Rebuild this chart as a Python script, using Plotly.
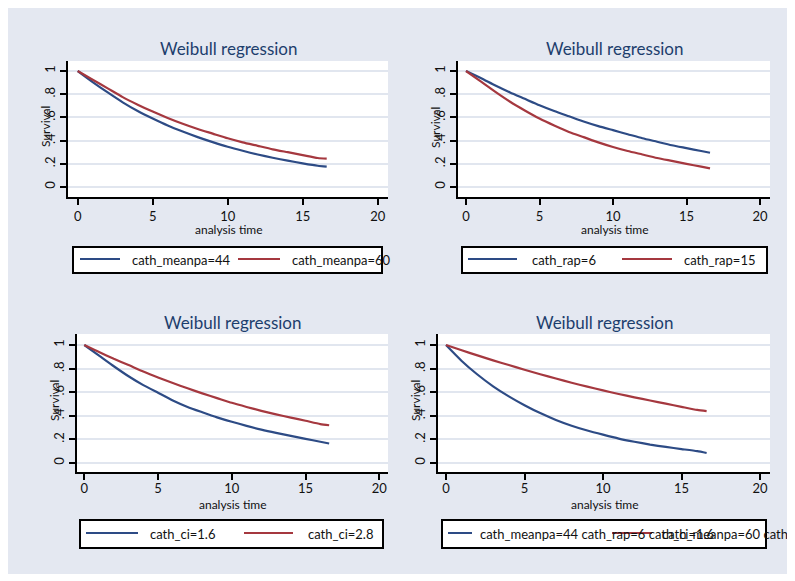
import plotly.graph_objects as go

# ---------------- data ----------------
time = [0, 1, 2, 3, 4, 5, 6, 7, 8, 9, 10, 11, 12, 13, 14, 15, 16, 16.6]

p1_blue = [1.0, 0.905, 0.815, 0.73, 0.655, 0.59, 0.53, 0.478, 0.43, 0.387, 0.347, 0.312, 0.28, 0.252, 0.227, 0.204, 0.183, 0.175]
p1_red = [1.0, 0.925, 0.85, 0.775, 0.71, 0.65, 0.595, 0.545, 0.50, 0.46, 0.42, 0.385, 0.355, 0.325, 0.30, 0.275, 0.25, 0.245]

p2_blue = [1.0, 0.94, 0.875, 0.815, 0.76, 0.705, 0.655, 0.61, 0.565, 0.525, 0.49, 0.455, 0.42, 0.39, 0.36, 0.335, 0.31, 0.295]
p2_red = [1.0, 0.91, 0.82, 0.735, 0.66, 0.59, 0.53, 0.475, 0.43, 0.385, 0.345, 0.31, 0.28, 0.25, 0.225, 0.20, 0.175, 0.16]

p3_blue = [1.0, 0.91, 0.82, 0.735, 0.66, 0.595, 0.53, 0.475, 0.43, 0.387, 0.35, 0.315, 0.283, 0.255, 0.23, 0.205, 0.18, 0.165]
p3_red = [1.0, 0.94, 0.883, 0.83, 0.775, 0.725, 0.678, 0.633, 0.59, 0.55, 0.51, 0.475, 0.442, 0.412, 0.385, 0.358, 0.33, 0.32]

p4_blue = [1.0, 0.865, 0.75, 0.65, 0.565, 0.49, 0.423, 0.365, 0.316, 0.275, 0.24, 0.207, 0.18, 0.156, 0.136, 0.118, 0.10, 0.085]
p4_red = [1.0, 0.955, 0.912, 0.87, 0.83, 0.79, 0.752, 0.716, 0.68, 0.647, 0.615, 0.585, 0.556, 0.53, 0.503, 0.476, 0.45, 0.44]

blue_names = ["cath_meanpa=44", "cath_rap=6", "cath_ci=1.6", "cath_meanpa=44 cath_rap=6 cath_ci=1.6"]
red_names = ["cath_meanpa=60", "cath_rap=15", "cath_ci=2.8", "cath_meanpa=60 cath_rap=15 cath_ci=2.8"]

title_text = "Weibull regression"
x_title = "analysis time"
y_title = "Survival"
x_ticks = [0, 5, 10, 15, 20]
x_ticktext = ["0", "5", "10", "15", "20"]
y_ticks = [0, 0.2, 0.4, 0.6, 0.8, 1.0]
y_ticktext = ["0", ".2", ".4", ".6", ".8", "1"]

series = [(p1_blue, p1_red), (p2_blue, p2_red), (p3_blue, p3_red), (p4_blue, p4_red)]

# ---------------- layout geometry (screen pixels) ----------------
OFF = 8            # page body margin offset
W, H = 795 - OFF, 581 - OFF
BLUE = "#2d4b85"
RED = "#a5383f"
BG = "#e4e8f1"
GRID = "#e1e6ef"
TITLE_C = "#1d3e6d"
FONT = "Lato"

panels = [
    dict(l=68, r=388, t=61, b=197, x0=77.7, x20=377.7, y0=187, y1=71, so=0),
    dict(l=458, r=770, t=61, b=197, x0=466, x20=760, y0=187, y1=71, so=0),
    dict(l=77, r=388, t=334, b=472, x0=84.3, x20=379.3, y0=463, y1=345, so=-3),
    dict(l=438, r=770, t=334, b=472, x0=446, x20=760, y0=463, y1=345, so=-3),
]

legends = [
    dict(box=(73, 382, 247, 273), bl=(80, 120), bt=130, rl=(238, 280), rt=290),
    dict(box=(462, 767, 247, 273), bl=(468, 517), bt=530, rl=(622, 672), rt=682),
    dict(box=(80, 383, 520, 548), bl=(86, 138), bt=148, rl=(244, 293), rt=306),
    dict(box=(442, 766, 520, 548), bl=(448, 472), bt=478, rl=(612, 652), rt=660),
]

def px(x):
    return (x - OFF) / W

def py(y):
    return 1 - (y - OFF) / H

fig = go.Figure()
shapes = []
annotations = []

shapes.append(dict(type="rect", xref="paper", yref="paper", x0=0, x1=1,
                   y0=0, y1=py(574), fillcolor="white", line=dict(width=0), layer="below"))

for i, (p, (sb, sr), lg) in enumerate(zip(panels, series, legends), start=1):
    xa = "x" if i == 1 else f"x{i}"
    ya = "y" if i == 1 else f"y{i}"
    fig.add_trace(go.Scatter(x=time, y=sb, mode="lines", name=blue_names[i - 1],
                             line=dict(color=BLUE, width=2.2, shape="spline", smoothing=0.6),
                             xaxis=xa, yaxis=ya, showlegend=False))
    fig.add_trace(go.Scatter(x=time, y=sr, mode="lines", name=red_names[i - 1],
                             line=dict(color=RED, width=2.2, shape="spline", smoothing=0.6),
                             xaxis=xa, yaxis=ya, showlegend=False))

    sx = (p["x20"] - p["x0"]) / 20.0
    xr = [(p["l"] - p["x0"]) / sx, (p["r"] - p["x0"]) / sx]
    sy = (p["y0"] - p["y1"])
    yr = [(p["y0"] - p["b"]) / sy, (p["y0"] - p["t"]) / sy]

    xkey = "xaxis" if i == 1 else f"xaxis{i}"
    ykey = "yaxis" if i == 1 else f"yaxis{i}"
    fig.update_layout(**{
        xkey: dict(domain=[px(p["l"]), px(p["r"])], range=xr, anchor=ya,
                   tickvals=x_ticks, ticktext=x_ticktext, showgrid=False, zeroline=False,
                   showline=True, linecolor="black", linewidth=2, ticks="outside",
                   ticklen=6, tickwidth=1.5, tickcolor="black", ticklabelstandoff=p["so"],
                   tickfont=dict(family=FONT, size=13, color="#111"), fixedrange=True),
        ykey: dict(domain=[py(p["b"]), py(p["t"])], range=yr, anchor=xa,
                   tickvals=y_ticks, ticktext=y_ticktext, tickangle=-90,
                   showgrid=True, gridcolor=GRID, gridwidth=1.5, zeroline=False,
                   showline=True, linecolor="black", linewidth=2, ticks="outside",
                   ticklen=6, tickwidth=1.5, tickcolor="black",
                   tickfont=dict(family=FONT, size=13, color="#111"), fixedrange=True),
    })

    cx = (p["l"] + p["r"]) / 2
    annotations.append(dict(text=title_text, x=px(cx), y=py(p["t"] - 12), xref="paper", yref="paper",
                            xanchor="center", yanchor="middle", showarrow=False,
                            font=dict(family=FONT, size=17, color=TITLE_C)))
    annotations.append(dict(text=x_title, x=px(cx), y=py(p["b"] + 32), xref="paper", yref="paper",
                            xanchor="center", yanchor="middle", showarrow=False,
                            font=dict(family=FONT, size=12, color="#111")))
    annotations.append(dict(text=y_title, x=px(p["l"] - 23), y=py((p["t"] + p["b"]) / 2 - 2),
                            xref="paper", yref="paper", xanchor="center", yanchor="middle",
                            textangle=-90, showarrow=False,
                            font=dict(family=FONT, size=12, color="#111")))

    bx0, bx1, by0, by1 = lg["box"]
    shapes.append(dict(type="rect", xref="paper", yref="paper", x0=px(bx0), x1=px(bx1),
                       y0=py(by1), y1=py(by0), fillcolor="white", line=dict(color="black", width=2)))
    ly = (by0 + by1) / 2 - 1
    shapes.append(dict(type="line", xref="paper", yref="paper", x0=px(lg["bl"][0]), x1=px(lg["bl"][1]),
                       y0=py(ly), y1=py(ly), line=dict(color=BLUE, width=2)))
    shapes.append(dict(type="line", xref="paper", yref="paper", x0=px(lg["rl"][0]), x1=px(lg["rl"][1]),
                       y0=py(ly), y1=py(ly), line=dict(color=RED, width=2)))
    annotations.append(dict(text=blue_names[i - 1], x=px(lg["bt"]), y=py(ly + 1), xref="paper", yref="paper",
                            xanchor="left", yanchor="middle", showarrow=False,
                            font=dict(family=FONT, size=13, color="#111")))
    annotations.append(dict(text=red_names[i - 1], x=px(lg["rt"]), y=py(ly + 1), xref="paper", yref="paper",
                            xanchor="left", yanchor="middle", showarrow=False,
                            font=dict(family=FONT, size=13, color="#111")))

fig.update_layout(width=W, height=H, autosize=False,
                  margin=dict(l=0, r=0, t=0, b=0),
                  paper_bgcolor=BG, plot_bgcolor="white",
                  shapes=shapes, annotations=annotations, showlegend=False)

fig.write_html("out.html")
